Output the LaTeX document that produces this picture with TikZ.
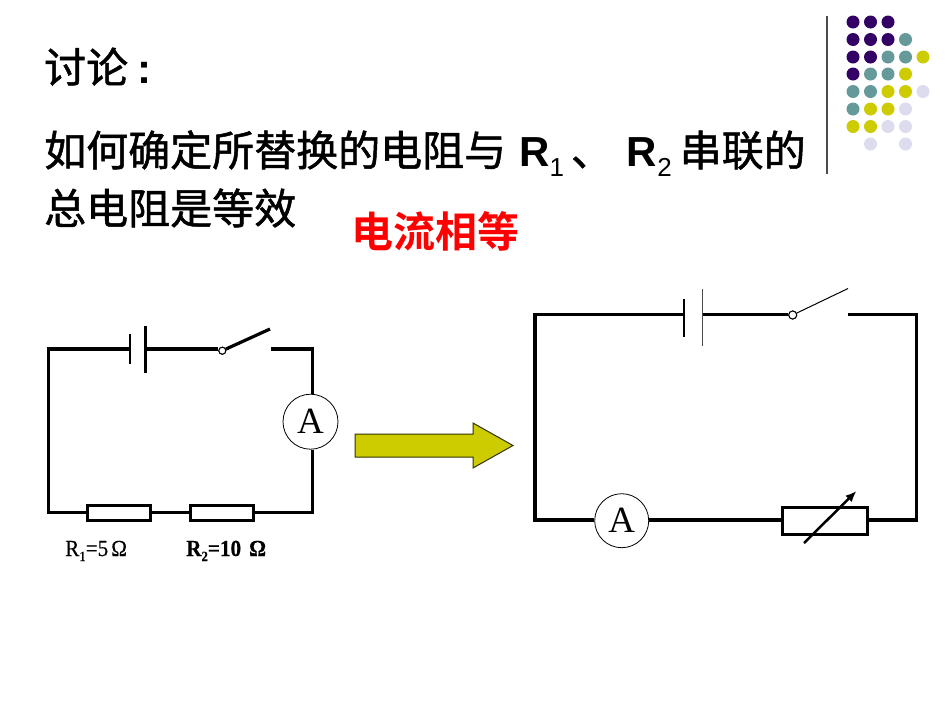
\documentclass[tikz,border=0pt]{standalone}
\usepackage{fontspec}
\usepackage{xcolor}
\usepackage{tikz}
\usetikzlibrary{arrows.meta,positioning}
\setmainfont{Liberation Sans}
\newfontfamily\cjk[FakeBold=1.2]{Noto Sans CJK SC}
\newfontfamily\cjkheavy{Noto Sans CJK SC Bold}
\newfontfamily\serif{Liberation Serif}
\newfontfamily\narrow[FakeStretch=0.92,FakeBold=0.3]{Liberation Serif}
\definecolor{p}{HTML}{330066}
\definecolor{t}{HTML}{669999}
\definecolor{y}{HTML}{CCCC00}
\definecolor{l}{HTML}{DCDCEE}
\newcommand{\dotrow}[3]{
    \foreach \shade [count=\ci] in {#3} {
        \fill[color=\shade] (853+17.5*\ci-17.5+17.5*#2, #1) circle (6.5);
    }
}
\newcommand{\lowered}[1]{\raisebox{-10pt}{\fontsize{26pt}{26pt}\selectfont #1}}
\newcommand{\lowtag}[1]{\raisebox{-5pt}{\fontsize{14pt}{14pt}\selectfont #1}}
\tikzset{
    title/.style={anchor=base west,inner sep=0,font=\fontsize{42pt}{42pt}\selectfont},
    wire/.style={line width=3.2,color=black},
    meter/.style={draw,circle,fill=white,line width=0.8,minimum size=55,inner sep=0,font=\serif\fontsize{37pt}{37pt}\selectfont},
    box/.style={draw,rectangle,fill=white,line width=3,inner sep=0},
    pin/.style={draw,circle,fill=white,line width=1,minimum size=7,inner sep=0},
    value/.style={inner sep=0,anchor=base west,font=\narrow\fontsize{23pt}{23pt}\selectfont}
}
\begin{document}
\begin{tikzpicture}[x=1pt,y=-1pt]
        \useasboundingbox[fill=white] (0,0) rectangle (950,713);

        % dots
        \draw[line width=1.2,color=black!70] (827,16) -- (827,174);
        \dotrow{22}{0}{p,p,p};
        \dotrow{39.5}{0}{p,p,p,t};
        \dotrow{57}{0}{p,p,t,t,y};
        \dotrow{74}{0}{p,t,t,y};
        \dotrow{91.5}{0}{t,t,y,y,l};
        \dotrow{109}{0}{t,y,y,l};
        \dotrow{126.5}{0}{y,y,l,l};
        \dotrow{144}{1}{l};
        \dotrow{144}{3}{l};

        % text
        \node[title] (ask) at (44,83) {\cjk 讨论\hspace{9pt}{\rmfamily\bfseries :}};
        \node[title] (line) at (44,166) {\cjk 如何确定所替换的电阻与\hspace{13pt}{\rmfamily\bfseries R\mdseries\lowered{1}}\hspace{7pt}、\hspace{14pt}{\rmfamily\bfseries R\mdseries\lowered{2}}\hspace{8pt}串联的};
        \node[title] (same) at (44,224) {\cjk 总电阻是等效};
        \node[title,color=red] (equal) at (351,247) {\cjkheavy 电流相等};

        % left circuit
        \node[meter] (metera) at (310.5,421.7) {A};
        \node[box,minimum width=63,minimum height=15] (rone) at (118.5,512.5) {};
        \node[box,minimum width=63,minimum height=15] (rtwo) at (221.5,512.5) {};
        \node[pin] (pina) at (222.3,350.7) {};
        \coordinate (lefta) at (48.3,349);
        \coordinate (leftb) at (48.3,512.5);
        \coordinate (righta) at (312.5,349);
        \coordinate (rightb) at (312.5,512.5);
        \coordinate (cella) at (130,349);
        \coordinate (cellb) at (145,349);
        \coordinate (opena) at (270,329);
        \coordinate (openb) at (270.7,349);
        \draw[wire] (cella) -- (lefta) -- (leftb) -- (rone.west);
        \draw[wire] (rone.east) -- (rtwo.west);
        \draw[wire] (rtwo.east) -- (rightb) -- (rightb |- metera.south);
        \draw[wire] (righta |- metera.north) -- (righta) -- (openb);
        \draw[wire] (cellb) -- (cellb -| pina.west);
        \draw[wire] (pina) -- (opena);
        \node[pin] at (pina) {};
        \draw[line width=2] (130,334) -- (130,364);
        \draw[line width=3] (145,326) -- (145,373);
        \node[value] (vone) at (65,556) {R\lowtag{1}=5\hspace{3pt}Ω};
        \node[value] (vtwo) at (186,556) {\bfseries R\lowtag{2}=10\hspace{8pt}Ω};

        % arrow
        \draw[fill=y,draw=black!75!y,line width=1] (355,434) -- (473,434) -- (473,423)
        -- (513,445.5) -- (473,468) -- (473,457) -- (355,457) -- cycle;

        % right circuit
        \node[meter,minimum size=54] (meterb) at (621.7,520.7) {A};
        \node[box,minimum width=85,minimum height=27] (rvar) at (824.7,520.8) {};
        \node[pin,minimum size=8] (pinb) at (792.7,315) {};
        \coordinate (topa) at (535,314.3);
        \coordinate (bota) at (535,520);
        \coordinate (topb) at (916.7,314.3);
        \coordinate (botb) at (916.7,520);
        \coordinate (celld) at (684,314.3);
        \coordinate (celle) at (702.7,314.3);
        \coordinate (openc) at (848,288.5);
        \coordinate (opend) at (848,314.3);
        \coordinate (slidea) at (804,543);
        \coordinate (slideb) at (856.5,491);
        \draw[wire] (celld) -- (topa) -- (bota) -- (bota -| meterb.west);
        \draw[wire] (bota -| meterb.east) -- (bota -| rvar.west);
        \draw[wire] (bota -| rvar.east) -- (botb) -- (topb) -- (opend);
        \draw[wire] (celle) -- (celle -| pinb.west);
        \draw[line width=1] (pinb) -- (openc);
        \node[pin,minimum size=8] at (pinb) {};
        \draw[line width=1.6] (684,299) -- (684,337);
        \draw[line width=1,color=black!70] (702.7,289) -- (702.7,346);
        \draw[-{Latex[length=11,width=9]},line width=2.5] (slidea) -- (slideb);
\end{tikzpicture}
\end{document}
